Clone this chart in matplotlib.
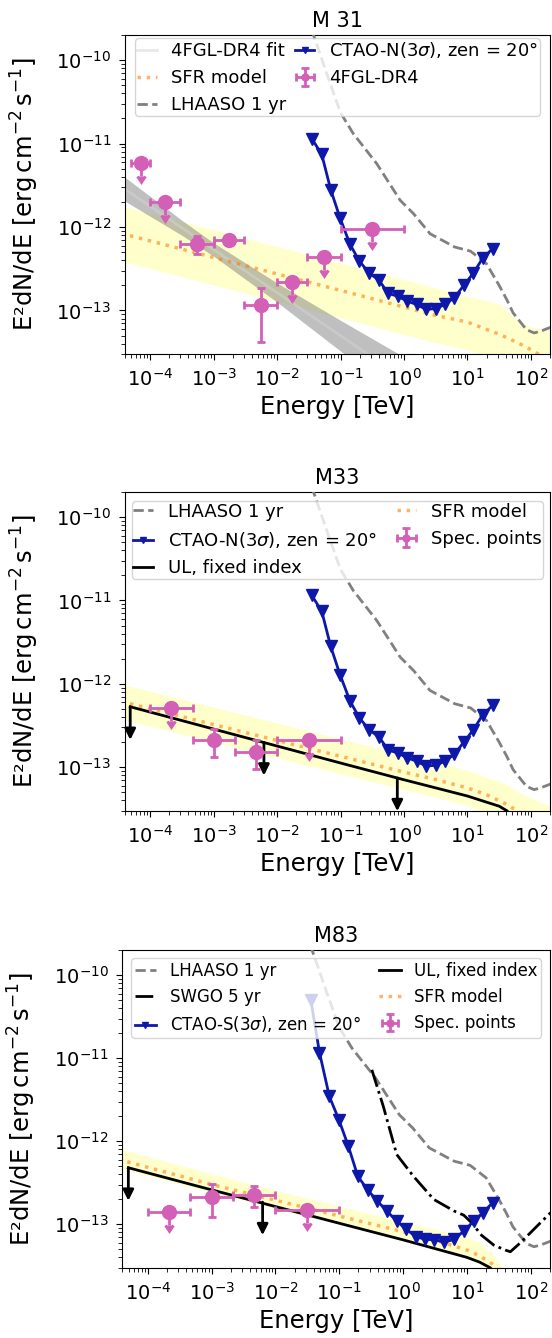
import numpy as np
import matplotlib.pyplot as plt

# energies in TeV, fluxes E^2 dN/dE in erg cm^-2 s^-1

# LHAASO 1 yr sensitivity (log10 E, log10 F), same curve in all panels
lhaaso_loge = [-1.60, -1.43, -1.20, -1.00, -0.80, -0.43, -0.06, 0.15, 0.41, 0.80,
               1.05, 1.30, 1.50, 1.62, 1.72, 1.93, 2.05, 2.15, 2.32]
lhaaso_logf = [-9.30, -9.69, -10.20, -10.63, -10.88, -11.24, -11.68, -11.84, -12.08, -12.24,
               -12.29, -12.44, -12.70, -12.87, -13.03, -13.23, -13.27, -13.25, -13.20]

# CTAO-N (3 sigma), zen = 20 deg
ctao_n_e = [0.0352, 0.0506, 0.070, 0.098, 0.141, 0.198, 0.284, 0.404, 0.566, 0.795,
            1.13, 1.58, 2.22, 3.15, 4.42, 6.2, 8.8, 12.4, 17.3, 24.9]
ctao_n_f = [1.15e-11, 7.4e-12, 2.8e-12, 1.29e-12, 6.2e-13, 3.9e-13, 2.8e-13, 2.3e-13, 1.6e-13, 1.48e-13,
            1.29e-13, 1.18e-13, 1.03e-13, 1.05e-13, 1.18e-13, 1.42e-13, 2.0e-13, 2.8e-13, 4.2e-13, 5.5e-13]

# CTAO-S (3 sigma), zen = 20 deg
ctao_s_e = [0.0359, 0.049, 0.070, 0.0986, 0.139, 0.195, 0.28, 0.397, 0.557, 0.80,
            1.12, 1.59, 2.22, 3.1, 4.45, 6.3, 9.1, 12.7, 17.8, 25.2]
ctao_s_f = [5.0e-11, 1.17e-11, 3.46e-12, 1.82e-12, 8.7e-13, 3.8e-13, 2.58e-13, 1.9e-13, 1.44e-13, 1.09e-13,
            8.7e-14, 7.1e-14, 6.6e-14, 6.5e-14, 6.1e-14, 6.6e-14, 8.4e-14, 1.09e-13, 1.38e-13, 1.82e-13]

# SWGO 5 yr
swgo_loge = [-0.49, -0.31, -0.10, 0.16, 0.48, 0.80, 0.95, 1.10, 1.21, 1.42, 1.60, 1.68, 1.84, 2.10, 2.31]
swgo_logf = [-11.14, -11.58, -12.16, -12.42, -12.70, -12.84, -12.89, -13.00, -13.12, -13.25,
             -13.31, -13.33, -13.22, -13.02, -12.86]

# ---- M 31 ----
m31_e = [7.07e-5, 1.73e-4, 5.48e-4, 1.73e-3, 5.48e-3, 1.73e-2, 5.48e-2, 3.16e-1]
m31_elo = [5e-5, 1e-4, 3e-4, 1e-3, 3e-3, 1e-2, 3e-2, 1e-1]
m31_ehi = [1e-4, 3e-4, 1e-3, 3e-3, 1e-2, 3e-2, 1e-1, 1.0]
m31_f = [5.9e-12, 2.0e-12, 6.2e-13, 7.0e-13, 1.15e-13, 2.18e-13, 4.4e-13, 9.35e-13]
m31_flo = [np.nan, np.nan, 4.7e-13, 6.1e-13, 4.15e-14, np.nan, np.nan, np.nan]
m31_fhi = [np.nan, np.nan, 7.8e-13, 8.0e-13, 1.87e-13, np.nan, np.nan, np.nan]
m31_ul = [1, 1, 0, 0, 0, 1, 1, 1]

fit31_loge = [-4.6, -3.5, -3.0, -2.0, -1.0, 0.0]
fit31_mid = [-11.443, -12.01, -12.27, -12.786, -13.303, -13.82]
fit31_lo = [-11.598, -12.10, -12.35, -12.901, -13.487, -14.082]
fit31_hi = [-11.288, -11.92, -12.19, -12.671, -13.119, -13.558]

sfr31_loge = [-4.6, -3.0, -2.0, -1.0, 0.0, 0.5, 1.0, 1.5, 1.8, 2.0, 2.2, 2.4]
sfr31_mid = [-12.048, -12.365, -12.563, -12.76, -12.96, -13.06, -13.14, -13.285, -13.39, -13.47, -13.56, -13.66]
sfr31_hi = [-11.72, -12.035, -12.233, -12.43, -12.63, -12.73, -12.83, -12.92, -13.13, -13.20, -13.23, -13.24]
sfr31_lo = [-12.38, -12.695, -12.893, -13.09, -13.29, -13.39, -13.47, -13.62, -13.75, -13.85, -13.95, -14.05]

# ---- M33 ----
m33_e = [2.15e-4, 1.0e-3, 4.64e-3, 3.16e-2]
m33_elo = [1e-4, 4.64e-4, 2.15e-3, 1e-2]
m33_ehi = [4.64e-4, 2.15e-3, 1e-2, 1e-1]
m33_f = [5.05e-13, 2.14e-13, 1.53e-13, 2.1e-13]
m33_flo = [np.nan, 1.31e-13, 9.5e-14, np.nan]
m33_fhi = [np.nan, 2.9e-13, 2.1e-13, np.nan]
m33_ul = [1, 0, 0, 1]

sfr33_loge = [-4.6, -3.0, -2.0, -1.0, 0.0, 0.5, 1.0, 1.3, 1.6, 1.8, 2.0, 2.4]
sfr33_mid = [-12.185, -12.49, -12.68, -12.87, -13.06, -13.15, -13.25, -13.33, -13.44, -13.53, -13.63, -13.85]
sfr33_hi = [-11.975, -12.28, -12.47, -12.66, -12.85, -12.94, -13.04, -13.12, -13.20, -13.30, -13.37, -13.50]
sfr33_lo = [-12.395, -12.70, -12.89, -13.08, -13.27, -13.36, -13.46, -13.55, -13.70, -13.80, -13.90, -14.10]

ul33_loge = [-4.315, -3.0, -1.0, 0.0, 1.0, 1.3, 1.5, 1.62, 1.8]
ul33_f = [5.3e-13, 2.86e-13, 1.12e-13, 7.05e-14, 4.5e-14, 3.8e-14, 3.4e-14, 3.0e-14, 2.2e-14]
ul33_arrow_e = [4.84e-5, 6.2e-3, 0.785]
ul33_arrow_f = [5.3e-13, 1.98e-13, 7.4e-14]

# ---- M83 ----
m83_e = [2.15e-4, 1.0e-3, 4.64e-3, 3.16e-2]
m83_elo = [1e-4, 4.64e-4, 2.15e-3, 1e-2]
m83_ehi = [4.64e-4, 2.15e-3, 1e-2, 1e-1]
m83_f = [1.42e-13, 2.14e-13, 2.24e-13, 1.48e-13]
m83_flo = [np.nan, 1.22e-13, 1.63e-13, np.nan]
m83_fhi = [np.nan, 3.07e-13, 2.88e-13, np.nan]
m83_ul = [1, 0, 0, 1]

sfr83_loge = [-4.6, -3.0, -2.0, -1.0, 0.0, 0.5, 1.0, 1.2, 1.4, 1.55, 1.7]
sfr83_mid = [-12.19, -12.52, -12.71, -12.90, -13.09, -13.19, -13.31, -13.38, -13.48, -13.60, -13.80]
sfr83_hi = [-12.06, -12.39, -12.59, -12.78, -12.97, -13.06, -13.16, -13.22, -13.36, -13.52, -13.70]
sfr83_lo = [-12.29, -12.62, -12.81, -13.00, -13.19, -13.29, -13.41, -13.48, -13.60, -13.75, -13.90]

ul83_loge = [-4.304, -3.0, -1.0, 0.0, 1.0, 1.2, 1.365, 1.5]
ul83_f = [4.8e-13, 2.6e-13, 1.03e-13, 6.5e-14, 4.0e-14, 3.5e-14, 3.0e-14, 2.2e-14]
ul83_arrow_e = [4.97e-5, 6.3e-3, 0.78]
ul83_arrow_f = [4.8e-13, 1.85e-13, 6.9e-14]

PINK = '#d35fb7'
BLUE = '#0e18a8'
CTAO_N_LABEL = 'CTAO-N(3$\\sigma$), zen = 20°'
CTAO_S_LABEL = 'CTAO-S(3$\\sigma$), zen = 20°'


def lg(v):
    return 10 ** np.asarray(v, dtype=float)


def sfr_band(ax, loge, mid, lo, hi):
    e = lg(loge)
    ax.fill_between(e, lg(lo), lg(hi), color='yellow', alpha=0.2, lw=0, zorder=1)
    line, = ax.plot(e, lg(mid), ':', color='C1', alpha=0.6, lw=2.5, label='SFR model', zorder=2)
    return line


def spec_points(ax, e, elo, ehi, f, flo, fhi, ul, label):
    e = np.array(e)
    f = np.array(f)
    ul = np.array(ul, dtype=bool)
    xerr = [e - np.array(elo), np.array(ehi) - e]
    # upper limits get a short arrow (30% of the value)
    ylow = np.where(ul, 0.3 * f, f - np.array(flo))
    yhigh = np.where(ul, 0.0, np.array(fhi) - f)
    return ax.errorbar(e, f, xerr=xerr, yerr=[ylow, yhigh], uplims=ul, fmt='o', color=PINK,
                       ms=10, elinewidth=2, capsize=3, capthick=2, label=label, zorder=6)


def ul_line(ax, loge, f, arrow_e, arrow_f):
    line, = ax.plot(lg(loge), f, '-', color='k', lw=2, label='UL, fixed index', zorder=4)
    for ea, fa in zip(arrow_e, arrow_f):
        ax.annotate('', xy=(ea, fa / 2.5), xytext=(ea, fa),
                    arrowprops=dict(arrowstyle='-|>', color='k', lw=2, mutation_scale=16,
                                    shrinkA=0, shrinkB=0), zorder=4)
    return line


def lhaaso(ax):
    line, = ax.plot(lg(lhaaso_loge), lg(lhaaso_logf), '--', color='gray', lw=2, label='LHAASO 1 yr', zorder=3)
    return line


def ctao(ax, e, f, label):
    line, = ax.plot(e, f, '-v', color=BLUE, lw=2, ms=8, label=label, zorder=5)
    return line


def style_axes(ax, title):
    ax.set_xscale('log')
    ax.set_yscale('log')
    ax.set_xlim(4e-5, 2e2)
    ax.set_ylim(3e-14, 2e-10)
    ax.set_title(title, fontsize=15)
    ax.set_xlabel('Energy [TeV]', fontsize=17.5)
    ax.set_ylabel('E²dN/dE [$\\mathrm{erg\\,cm^{-2}\\,s^{-1}}$]', fontsize=17.5, labelpad=11)
    ax.tick_params(which='major', labelsize=14, length=4.5, pad=5.5)
    ax.tick_params(which='minor', length=2.6)


fig = plt.figure(figsize=(5.52, 13.38), dpi=100)

# M 31
ax1 = fig.add_axes([0.2264, 0.7354, 0.7699, 0.2384])
style_axes(ax1, 'M 31')
ax1.fill_between(lg(fit31_loge), lg(fit31_lo), lg(fit31_hi), color='gray', alpha=0.5, lw=0, zorder=1.5)
h_fit, = ax1.plot(lg(fit31_loge), lg(fit31_mid), color='lightgray', alpha=0.5, lw=2, label='4FGL-DR4 fit', zorder=1.6)
h_sfr = sfr_band(ax1, sfr31_loge, sfr31_mid, sfr31_lo, sfr31_hi)
h_lh = lhaaso(ax1)
h_ct = ctao(ax1, ctao_n_e, ctao_n_f, CTAO_N_LABEL)
h_pts = spec_points(ax1, m31_e, m31_elo, m31_ehi, m31_f, m31_flo, m31_fhi, m31_ul, '4FGL-DR4')
ax1.legend([h_fit, h_sfr, h_lh, h_ct, h_pts],
           ['4FGL-DR4 fit', 'SFR model', 'LHAASO 1 yr', CTAO_N_LABEL, '4FGL-DR4'],
           loc='upper center', bbox_to_anchor=(0.5, 1.019), ncol=2, fontsize=13, borderpad=0.1,
           handlelength=1.1, columnspacing=0.45, markerscale=0.5)

# M33
ax2 = fig.add_axes([0.2264, 0.3941, 0.7699, 0.2382])
style_axes(ax2, 'M33')
h_sfr = sfr_band(ax2, sfr33_loge, sfr33_mid, sfr33_lo, sfr33_hi)
h_lh = lhaaso(ax2)
h_ct = ctao(ax2, ctao_n_e, ctao_n_f, CTAO_N_LABEL)
h_ul = ul_line(ax2, ul33_loge, ul33_f, ul33_arrow_e, ul33_arrow_f)
h_pts = spec_points(ax2, m33_e, m33_elo, m33_ehi, m33_f, m33_flo, m33_fhi, m33_ul, 'Spec. points')
ax2.legend([h_lh, h_ct, h_ul, h_sfr, h_pts],
           ['LHAASO 1 yr', CTAO_N_LABEL, 'UL, fixed index', 'SFR model', 'Spec. points'],
           loc='upper center', ncol=2, fontsize=13, borderpad=0.1,
           handlelength=1.1, columnspacing=1.1, markerscale=0.5)

# M83
ax3 = fig.add_axes([0.2216, 0.0525, 0.7748, 0.2374])
style_axes(ax3, 'M83')
h_sfr = sfr_band(ax3, sfr83_loge, sfr83_mid, sfr83_lo, sfr83_hi)
h_lh = lhaaso(ax3)
h_sw, = ax3.plot(lg(swgo_loge), lg(swgo_logf), '-.', color='k', lw=2, label='SWGO 5 yr', zorder=3)
h_ct = ctao(ax3, ctao_s_e, ctao_s_f, CTAO_S_LABEL)
h_ul = ul_line(ax3, ul83_loge, ul83_f, ul83_arrow_e, ul83_arrow_f)
h_pts = spec_points(ax3, m83_e, m83_elo, m83_ehi, m83_f, m83_flo, m83_fhi, m83_ul, 'Spec. points')
ax3.legend([h_lh, h_sw, h_ct, h_ul, h_sfr, h_pts],
           ['LHAASO 1 yr', 'SWGO 5 yr', CTAO_S_LABEL, 'UL, fixed index', 'SFR model', 'Spec. points'],
           loc='upper center', ncol=2, fontsize=12, borderpad=0.2,
           handlelength=1.3, columnspacing=1.1, markerscale=0.5)

fig.savefig('out.png', dpi=100)
